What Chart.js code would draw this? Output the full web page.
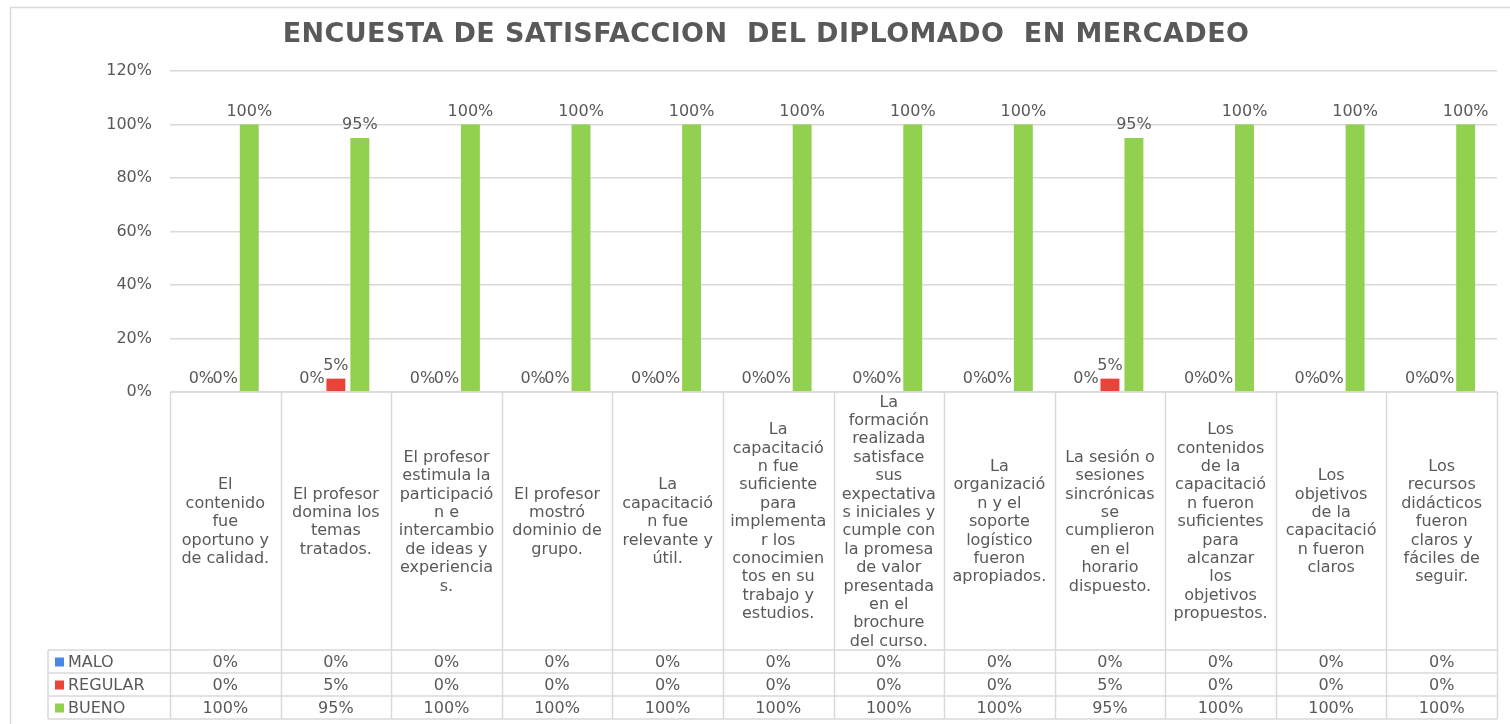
<!DOCTYPE html>
<html>
<head>
<meta charset="utf-8">
<title>Encuesta de satisfacción</title>
<script src="https://cdn.jsdelivr.net/npm/chart.js@4/dist/chart.umd.min.js"></script>
<style>
    body { margin: 0; background: #ffffff; }
    #wrap { position: relative; width: 1510px; height: 724px; }
</style>
</head>
<body>
<div id="wrap"><canvas id="encuesta"></canvas></div>
<script>
const titulo = 'ENCUESTA DE SATISFACCION  DEL DIPLOMADO  EN MERCADEO';

// preguntas, ya partidas en renglones como en la tabla
const preguntas = [
    ['El', 'contenido', 'fue', 'oportuno y', 'de calidad.'],
    ['El profesor', 'domina los', 'temas', 'tratados.'],
    ['El profesor', 'estimula la', 'participació', 'n e', 'intercambio', 'de ideas y', 'experiencia', 's.'],
    ['El profesor', 'mostró', 'dominio de', 'grupo.'],
    ['La', 'capacitació', 'n fue', 'relevante y', 'útil.'],
    ['La', 'capacitació', 'n fue', 'suficiente', 'para', 'implementa', 'r los', 'conocimien', 'tos en su', 'trabajo y', 'estudios.'],
    ['La', 'formación', 'realizada', 'satisface', 'sus', 'expectativa', 's iniciales y', 'cumple con', 'la promesa', 'de valor', 'presentada', 'en el', 'brochure', 'del curso.'],
    ['La', 'organizació', 'n y el', 'soporte', 'logístico', 'fueron', 'apropiados.'],
    ['La sesión o', 'sesiones', 'sincrónicas', 'se', 'cumplieron', 'en el', 'horario', 'dispuesto.'],
    ['Los', 'contenidos', 'de la', 'capacitació', 'n fueron', 'suficientes', 'para', 'alcanzar', 'los', 'objetivos', 'propuestos.'],
    ['Los', 'objetivos', 'de la', 'capacitació', 'n fueron', 'claros'],
    ['Los', 'recursos', 'didácticos', 'fueron', 'claros y', 'fáciles de', 'seguir.']
];

const malo    = [0, 0, 0, 0, 0, 0, 0, 0, 0, 0, 0, 0];
const regular = [0, 5, 0, 0, 0, 0, 0, 0, 5, 0, 0, 0];
const bueno   = [100, 95, 100, 100, 100, 100, 100, 100, 95, 100, 100, 100];

const yTicks = [0, 20, 40, 60, 80, 100, 120];

const colours = {
    MALO: '#4a86e8',
    REGULAR: '#e8443a',
    BUENO: '#92d050'
};

const textColour = '#595959';
const lineColour = '#d9d9d9';
const fuente = 'DejaVu Sans';

// etiquetas de valor encima de cada barra
const etiquetas = {
    id: 'etiquetas',
    afterDatasetsDraw(chart) {
        const ctx = chart.ctx;
        ctx.save();
        ctx.font = '16px ' + fuente;
        ctx.fillStyle = textColour;
        ctx.textAlign = 'center';
        ctx.textBaseline = 'alphabetic';
        chart.data.datasets.forEach((ds, i) => {
            chart.getDatasetMeta(i).data.forEach((bar, j) => {
                ctx.fillText(ds.data[j] + '%', bar.x, bar.y - 9);
            });
        });
        ctx.restore();
    }
};

// titulo, celdas de preguntas y tabla de datos bajo el eje
const tablaDatos = {
    id: 'tablaDatos',
    afterDraw(chart) {
        const ctx = chart.ctx;
        const area = chart.chartArea;
        const n = preguntas.length;
        const ancho = (area.right - area.left) / n;
        const filaTop = area.bottom + 258;
        const filaH = 23;
        const leyendaX = 48;
        const series = chart.data.datasets;

        ctx.save();

        // marco exterior
        ctx.strokeStyle = lineColour;
        ctx.lineWidth = 1.5;
        ctx.beginPath();
        ctx.moveTo(10.5, 724);
        ctx.lineTo(10.5, 7.5);
        ctx.lineTo(1510, 7.5);
        ctx.stroke();

        // titulo
        ctx.fillStyle = textColour;
        ctx.font = 'bold 27px ' + fuente;
        ctx.letterSpacing = '0.4px';
        ctx.textAlign = 'center';
        ctx.textBaseline = 'middle';
        ctx.fillText(titulo, 766, 35);
        ctx.letterSpacing = '0px';

        // rejilla de la tabla
        const fondo = filaTop + filaH * series.length;
        ctx.beginPath();
        ctx.moveTo(area.left, area.bottom);
        ctx.lineTo(area.right, area.bottom);
        for (let i = 0; i <= n; i++) {
            const x = Math.round(area.left + i * ancho) + 0.5;
            ctx.moveTo(x, area.bottom);
            ctx.lineTo(x, fondo);
        }
        for (let r = 0; r <= series.length; r++) {
            const y = filaTop + r * filaH;
            ctx.moveTo(leyendaX, y);
            ctx.lineTo(area.right, y);
        }
        ctx.moveTo(leyendaX, filaTop);
        ctx.lineTo(leyendaX, fondo);
        ctx.stroke();

        // texto de las preguntas, centrado en su celda
        ctx.font = '16px ' + fuente;
        ctx.fillStyle = textColour;
        const lh = 18.4;
        const centroY = (area.bottom + filaTop) / 2;
        preguntas.forEach((lineas, i) => {
            const cx = area.left + (i + 0.5) * ancho;
            const y0 = centroY - (lineas.length - 1) * lh / 2;
            lineas.forEach((t, k) => ctx.fillText(t, cx, y0 + k * lh + 1));
        });

        // filas de valores con su clave de color
        series.forEach((ds, r) => {
            const cy = filaTop + r * filaH + filaH / 2 + 1;
            ctx.fillStyle = ds.backgroundColor;
            ctx.fillRect(55, cy - 5, 9, 9);
            ctx.fillStyle = textColour;
            ctx.textAlign = 'left';
            ctx.fillText(ds.label, 68, cy);
            ctx.textAlign = 'center';
            ds.data.forEach((v, i) => {
                ctx.fillText(v + '%', area.left + (i + 0.5) * ancho, cy);
            });
        });

        ctx.restore();
    }
};

const ctx = document.getElementById('encuesta').getContext('2d');
const myChart = new Chart(ctx, {
    type: 'bar',
    data: {
        labels: preguntas.map(l => l.join(' ')),
        datasets: [
            { label: 'MALO', data: malo, backgroundColor: colours.MALO },
            { label: 'REGULAR', data: regular, backgroundColor: colours.REGULAR },
            { label: 'BUENO', data: bueno, backgroundColor: colours.BUENO }
        ]
    },
    options: {
        responsive: true,
        maintainAspectRatio: false,
        animation: false,
        datasets: {
            bar: {
                categoryPercentage: 0.65,
                barPercentage: 0.79
            }
        },
        layout: {
            padding: { left: 0, right: 13, top: 71, bottom: 332 }
        },
        scales: {
            x: {
                display: false
            },
            y: {
                min: 0,
                max: 120,
                afterBuildTicks: (scale) => {
                    scale.ticks = yTicks.map(v => ({ value: v }));
                },
                afterFit: (scale) => {
                    scale.width = 170;
                },
                border: { display: false },
                grid: {
                    color: lineColour,
                    lineWidth: 1.5,
                    drawTicks: false
                },
                ticks: {
                    padding: 18,
                    color: textColour,
                    font: { family: fuente, size: 16 },
                    callback: (v) => v + '%'
                }
            }
        },
        plugins: {
            legend: { display: false },
            title: { display: false },
            tooltip: { enabled: false }
        }
    },
    plugins: [etiquetas, tablaDatos]
});
</script>
</body>
</html>
